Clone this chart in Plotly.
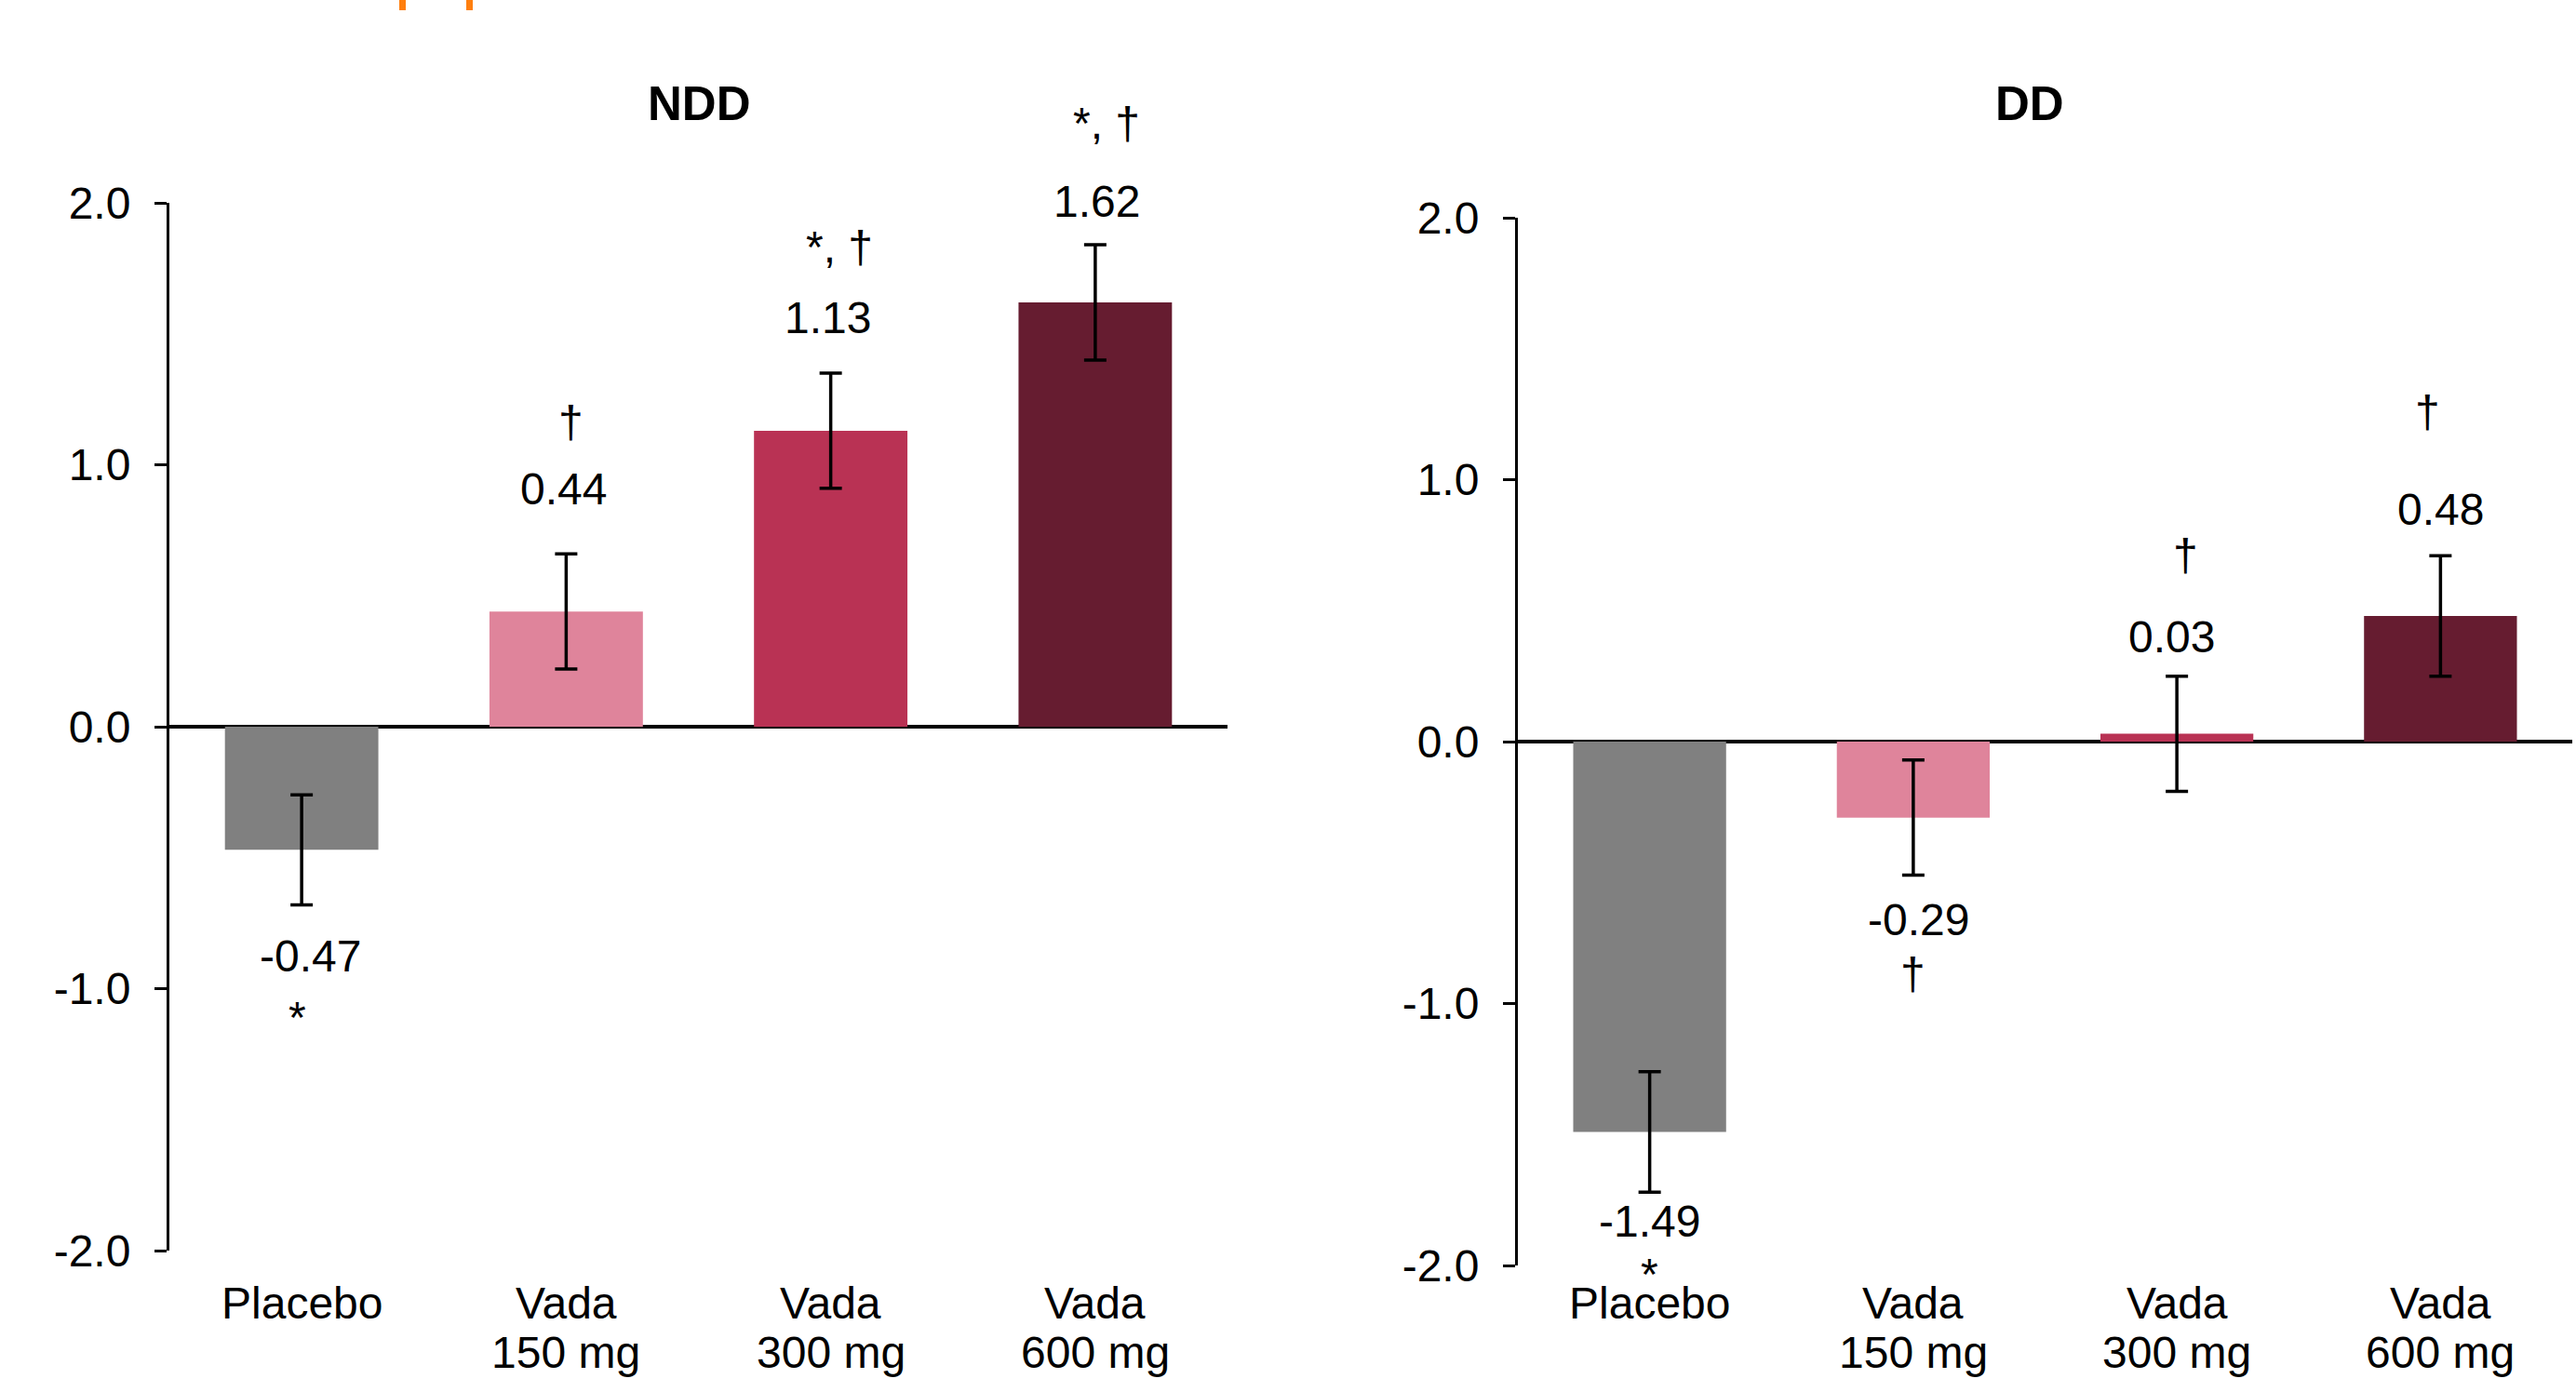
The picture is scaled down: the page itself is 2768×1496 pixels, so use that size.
import plotly.graph_objects as go

# ---------------- data ----------------
categories = ["Placebo", "Vada 150 mg", "Vada 300 mg", "Vada 600 mg"]
category_line1 = ["Placebo", "Vada", "Vada", "Vada"]
category_line2 = ["", "150 mg", "300 mg", "600 mg"]
ndd_values = [-0.47, 0.44, 1.13, 1.62]
ndd_errors = [0.21, 0.22, 0.22, 0.22]
ndd_marks = ["*", "†", "*, †", "*, †"]
dd_values = [-1.49, -0.29, 0.03, 0.48]
dd_errors = [0.23, 0.22, 0.22, 0.23]
dd_marks = ["*", "†", "†", "†"]
y_tickvals = [-2, -1, 0, 1, 2]
y_ticktext = ["-2.0", "-1.0", "0.0", "1.0", "2.0"]
panel_titles = ["NDD", "DD"]

# ---------------- styling / label placement ----------------
bar_colors = ["#808080", "#DF849B", "#B93254", "#661C30"]
Y_MIN, Y_MAX = -2, 2
ndd_value_label_y = [-0.874, 0.909, 1.563, 2.004]
ndd_mark_label_y = [-1.11, 1.165, 1.833, 2.302]
dd_value_label_y = [-1.83, -0.679, 0.398, 0.888]
dd_mark_label_y = [-2.035, -0.888, 0.714, 1.258]
ndd_value_xshift = [9, -3, -3, 2]
ndd_mark_xshift = [-5, 5, 9, 12]
dd_value_xshift = [0, 6, -6, 0]
dd_mark_xshift = [0, 0, 9, -14]

FONT = "Liberation Sans, Arial, Helvetica, sans-serif"
W, H = 2768, 1496
FS = 48

fig = go.Figure()

def add_bars(values, errors, xa, ya):
    fig.add_trace(go.Bar(
        x=categories, y=values, xaxis=xa, yaxis=ya,
        marker=dict(color=bar_colors, line=dict(width=0)),
        error_y=dict(type="data", array=errors, visible=True,
                     color="black", thickness=3.5, width=12),
        showlegend=False, hoverinfo="skip",
    ))

add_bars(ndd_values, ndd_errors, "x", "y")
add_bars(dd_values, dd_errors, "x2", "y2")

def dom(v):
    return (v - Y_MIN) / (Y_MAX - Y_MIN)

annotations = []
def add_labels(values, marks, vy, my, vxs, mxs, xref, yref):
    for c, v, m, a, b, s1, s2 in zip(categories, values, marks, vy, my, vxs, mxs):
        annotations.append(dict(x=c, y=dom(a), xref=xref, yref=yref + " domain",
                                text=f"{v:.2f}", showarrow=False, yanchor="middle",
                                xanchor="center", xshift=s1,
                                font=dict(family=FONT, size=FS, color="black")))
        annotations.append(dict(x=c, y=dom(b), xref=xref, yref=yref + " domain",
                                text=m, showarrow=False, yanchor="middle",
                                xanchor="center", xshift=s2,
                                font=dict(family=FONT, size=FS, color="black")))

add_labels(ndd_values, ndd_marks, ndd_value_label_y, ndd_mark_label_y,
           ndd_value_xshift, ndd_mark_xshift, "x", "y")
add_labels(dd_values, dd_marks, dd_value_label_y, dd_mark_label_y,
           dd_value_xshift, dd_mark_xshift, "x2", "y2")

# category labels (two lines, tighter line spacing than plotly's tick labels)
for xref in ["x", "x2"]:
    for c, l1, l2 in zip(categories, category_line1, category_line2):
        for txt, py in ((l1, 1400), (l2, 1453)):
            if txt:
                annotations.append(dict(x=c, y=1 - py / H, xref=xref, yref="paper",
                                        text=txt, showarrow=False, xanchor="center",
                                        yanchor="middle",
                                        font=dict(family=FONT, size=FS, color="black")))

for t, xc in zip(panel_titles, [751 / W, 2181 / W]):
    annotations.append(dict(x=xc, y=1 - 111 / H, xref="paper", yref="paper",
                            text=f"<b>{t}</b>", showarrow=False, yanchor="middle",
                            xanchor="center",
                            font=dict(family=FONT, size=51, color="black")))

yaxis_common = dict(
    range=[Y_MIN, Y_MAX], tickvals=y_tickvals, ticktext=y_ticktext,
    automargin=False,
    showgrid=False, showline=True, linecolor="black", linewidth=3,
    ticks="outside", ticklen=13, tickwidth=3, tickcolor="black",
    ticklabelstandoff=16,
    zeroline=True, zerolinecolor="black", zerolinewidth=4,
    tickfont=dict(family=FONT, size=FS, color="black"),
)
xaxis_common = dict(
    automargin=False, showticklabels=False,
    showgrid=False, showline=False, zeroline=False, ticks="",
)

fig.update_layout(
    width=W, height=H,
    margin=dict(l=0, r=0, t=0, b=0, autoexpand=False),
    paper_bgcolor="white", plot_bgcolor="white",
    bargap=0.42,
    xaxis=dict(domain=[182 / W, 1319 / W], anchor="y", **xaxis_common),
    yaxis=dict(domain=[1 - 1344 / H, 1 - 218 / H], anchor="x", **yaxis_common),
    xaxis2=dict(domain=[1631 / W, 2764 / W], anchor="y2", **xaxis_common),
    yaxis2=dict(domain=[1 - 1360 / H, 1 - 234 / H], anchor="x2", **yaxis_common),
    annotations=annotations,
    shapes=[
        dict(type="rect", xref="paper", yref="paper", x0=429 / W, x1=436 / W,
             y0=1 - 11 / H, y1=1, fillcolor="#FF7F0E", line=dict(width=0)),
        dict(type="rect", xref="paper", yref="paper", x0=501 / W, x1=508 / W,
             y0=1 - 11 / H, y1=1, fillcolor="#FF7F0E", line=dict(width=0)),
    ],
)

fig.write_html("out.html",
               config={"displayModeBar": False},
               post_script="document.body.style.margin='0px';document.body.style.overflow='hidden';")
